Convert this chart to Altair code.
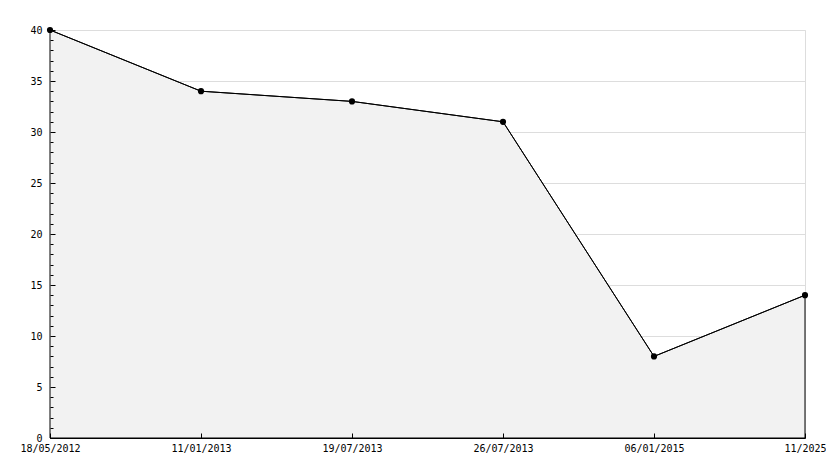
import altair as alt
import pandas as pd

dates = ["18/05/2012", "11/01/2013", "19/07/2013", "26/07/2013", "06/01/2015", "11/2025"]
values = [40, 34, 33, 31, 8, 14]
major_ticks = [0, 5, 10, 15, 20, 25, 30, 35, 40]
minor_ticks = list(range(0, 41))

df = pd.DataFrame({"date": dates, "value": values})

FONT = "DejaVu Sans Mono"
W, H = 755, 408

xs = alt.Scale(type="point", padding=0)
ys = alt.Scale(domain=[0, 40], nice=False, zero=True)

area = alt.Chart(df).mark_area(fill="#f2f2f2", stroke="black", strokeWidth=1).encode(
    x=alt.X("date:N", sort=None, scale=xs, title=None,
            axis=alt.Axis(orient="bottom", labelAngle=0, ticks=False, labelPadding=5,
                          labelFont=FONT, labelFontSize=10, labelColor="black",
                          domainColor="black", grid=False, zindex=1)),
    y=alt.Y("value:Q", scale=ys, title=None,
            axis=alt.Axis(orient="left", values=major_ticks, ticks=False, labelPadding=8,
                          labelFont=FONT, labelFontSize=10, labelColor="black",
                          domainColor="black", grid=True, gridColor="#dddddd")),
)

pts = alt.Chart(df).mark_line(color="black", strokeWidth=1, point=alt.OverlayMarkDef(color="black", size=38, opacity=1)).encode(
    x=alt.X("date:N", sort=None, scale=xs, title=None,
            axis=alt.Axis(orient="top", offset=-H, labels=False, domain=False, grid=False,
                          ticks=True, tickColor="black", tickSize=5, zindex=1)),
    y=alt.Y("value:Q", scale=ys, title=None,
            axis=alt.Axis(orient="right", offset=-W, values=minor_ticks, labels=False, domain=False,
                          grid=False, ticks=True, tickColor="black", zindex=1,
                          tickSize={"condition": {"test": "datum.value % 5 === 0", "value": 5}, "value": 3})),
)

chart = alt.layer(area, pts).resolve_axis(x="independent", y="independent").properties(
    width=W, height=H,
    autosize=alt.AutoSizeParams(type="none"),
    padding={"left": 42, "top": 22, "right": 21, "bottom": 22},
).configure_view(strokeWidth=0, stroke="transparent").configure(background="white")

chart.save("out.html", embed_options={"renderer": "svg", "actions": False})
